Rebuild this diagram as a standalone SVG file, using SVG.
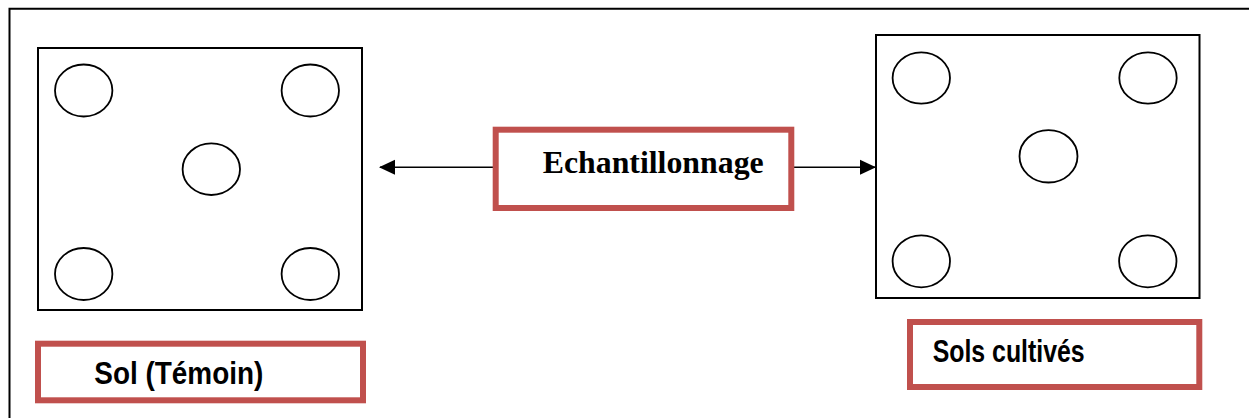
<svg xmlns="http://www.w3.org/2000/svg" width="1249" height="418" viewBox="0 0 1249 418">
  <style>
    .frame { fill: none; stroke: #000; stroke-width: 2; }
    .plot { fill: #fff; stroke: #000; stroke-width: 2; }
    .spot { fill: #fff; stroke: #000; stroke-width: 1.8; }
    .label { fill: #fff; stroke: #C0504D; stroke-width: 6; }
    .conn { stroke: #000; stroke-width: 1.6; fill: none; }
    .serif { font-family: "Liberation Serif", "Times New Roman", serif; font-weight: bold; fill: #000; }
    .sans { font-family: "Liberation Sans", Arial, sans-serif; font-weight: bold; fill: #000; }
  </style>
  <defs>
    <marker id="head" viewBox="0 0 16 16" refX="15" refY="8" markerWidth="16" markerHeight="16" markerUnits="userSpaceOnUse" orient="auto-start-reverse">
      <path d="M0,0.5 L16,8 L0,15.5 Z" fill="#000"/>
    </marker>
  </defs>

  <rect width="1249" height="418" fill="#fff"/>

  <!-- outer frame: left and top edges -->
  <path class="frame" d="M9.5,420 V8.7 H1252"/>

  <!-- control plot -->
  <g id="plot-temoin">
    <rect class="plot" x="38" y="48" width="324" height="262"/>
    <ellipse class="spot" cx="83.7" cy="90.5" rx="28.7" ry="26"/>
    <ellipse class="spot" cx="310.3" cy="90.5" rx="28.7" ry="26"/>
    <ellipse class="spot" cx="211.3" cy="169.2" rx="28.7" ry="25.8"/>
    <ellipse class="spot" cx="83.7" cy="274" rx="28.7" ry="26"/>
    <ellipse class="spot" cx="310.3" cy="274" rx="28.7" ry="26"/>
  </g>

  <!-- cultivated plot -->
  <g id="plot-cultives">
    <rect class="plot" x="876" y="35" width="323.5" height="263"/>
    <ellipse class="spot" cx="921.3" cy="78" rx="28.7" ry="25.7"/>
    <ellipse class="spot" cx="1148" cy="78" rx="28.7" ry="25.7"/>
    <ellipse class="spot" cx="1048.5" cy="156.3" rx="29" ry="26.2"/>
    <ellipse class="spot" cx="921.3" cy="261.3" rx="28.7" ry="26"/>
    <ellipse class="spot" cx="1147.8" cy="261.3" rx="28.7" ry="26"/>
  </g>

  <!-- sampling arrows -->
  <g id="connectors">
    <line class="conn" x1="495.7" y1="167.3" x2="380" y2="167.3" marker-end="url(#head)"/>
    <line class="conn" x1="791.3" y1="167.3" x2="875" y2="167.3" marker-end="url(#head)"/>
  </g>

  <g id="echantillonnage">
    <rect class="label" x="495.7" y="129.7" width="295.6" height="78.3"/>
    <text class="serif" x="542.7" y="173.3" font-size="31.5" textLength="221" lengthAdjust="spacingAndGlyphs">Echantillonnage</text>
  </g>

  <g id="label-temoin">
    <rect class="label" x="38" y="343.7" width="325" height="56.6"/>
    <text class="sans" x="94.3" y="384" font-size="31" textLength="169" lengthAdjust="spacingAndGlyphs">Sol (Témoin)</text>
  </g>

  <g id="label-cultives">
    <rect class="label" x="910" y="322" width="289.3" height="65"/>
    <text class="sans" x="932.7" y="361.7" font-size="30.5" textLength="152" lengthAdjust="spacingAndGlyphs">Sols cultivés</text>
  </g>
</svg>
